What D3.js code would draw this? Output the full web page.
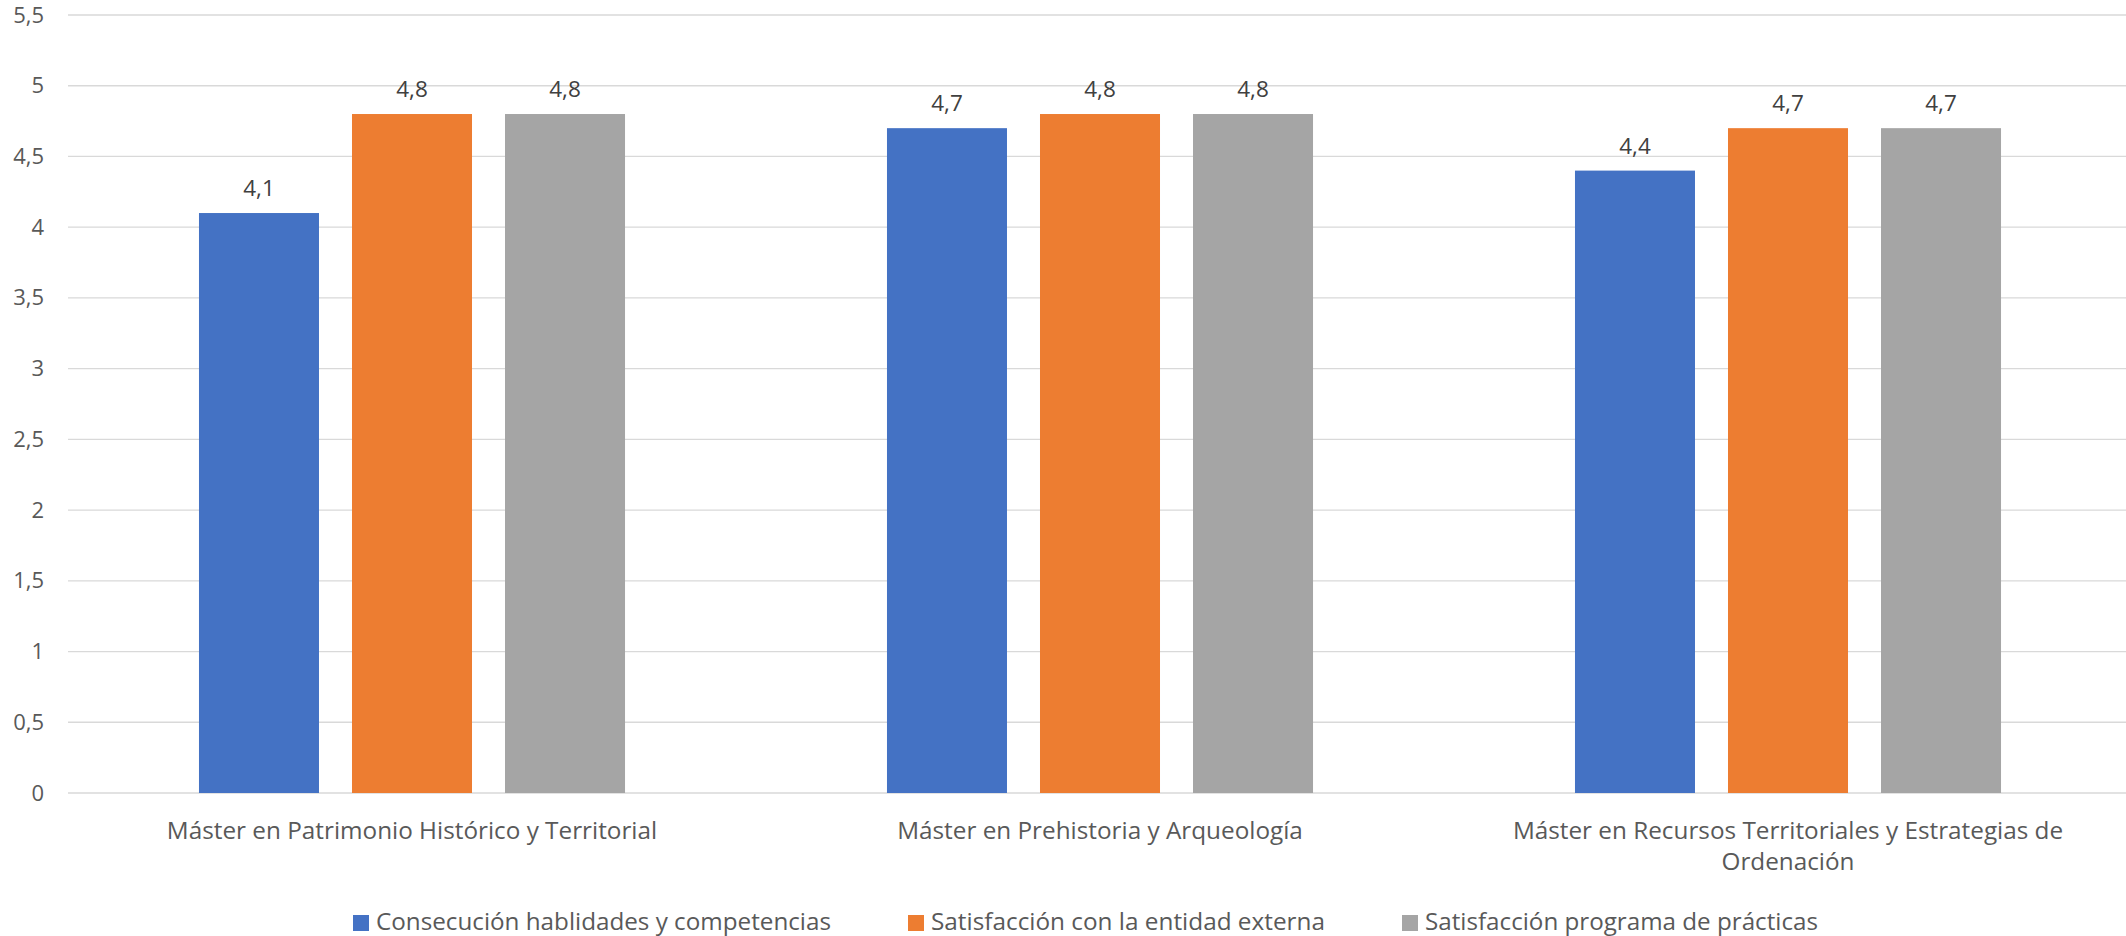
<!DOCTYPE html>
<html>
<head>
<meta charset="utf-8">
<script src="https://cdn.jsdelivr.net/npm/d3@7"></script>
<style>
  html, body { margin: 0; padding: 0; background: #fff; }
  svg { display: block; }
  text { font-family: "Open Sans", "Noto Sans", sans-serif; }
</style>
</head>
<body>
<svg id="chart" width="2126" height="936"></svg>
<script>
const categories = [
  ["Máster en Patrimonio Histórico y Territorial"],
  ["Máster en Prehistoria y Arqueología"],
  ["Máster en Recursos Territoriales y Estrategias de", "Ordenación"]
];
const seriesNames = [
  "Consecución hablidades y competencias",
  "Satisfacción con la entidad externa",
  "Satisfacción programa de prácticas"
];
const consecucion = [4.1, 4.7, 4.4];
const entidadExterna = [4.8, 4.8, 4.7];
const programaPracticas = [4.8, 4.8, 4.7];
const yTicks = [0, 0.5, 1, 1.5, 2, 2.5, 3, 3.5, 4, 4.5, 5, 5.5];
const colors = ["#4472C4", "#ED7D31", "#A5A5A5"];

const seriesValues = [consecucion, entidadExterna, programaPracticas];
const fmt = v => String(v).replace(".", ",");

const svg = d3.select("#chart");
const mLeft = 68, mRight = 2132, mTop = 15, mBottom = 793;

const x0 = d3.scaleBand().domain(d3.range(categories.length)).range([mLeft, mRight]).padding(0);
const x1 = d3.scaleBand().domain(d3.range(seriesNames.length))
  .range([0, x0.bandwidth()]).paddingInner(0.2157).paddingOuter(0.856);
const y = d3.scaleLinear().domain([0, 5.5]).range([mBottom, mTop]);

// gridlines
const grid = svg.append("g");
grid.selectAll("line").data(yTicks).join("line")
  .attr("x1", mLeft).attr("x2", 2126)
  .attr("y1", d => y(d)).attr("y2", d => y(d))
  .attr("stroke", "#d9d9d9").attr("stroke-width", 1.3);

// y axis labels
const yAxis = d3.axisLeft(y).tickValues(yTicks).tickFormat(fmt).tickSize(0).tickPadding(24);
const ya = svg.append("g").attr("transform", `translate(${mLeft},0)`).call(yAxis);
ya.select(".domain").remove();
ya.selectAll("text").attr("font-size", 22).attr("fill", "#595959")
  .style("font-family", '"Open Sans", sans-serif');

// bars
const groups = svg.append("g").selectAll("g").data(categories.map((c, i) => i)).join("g")
  .attr("transform", i => `translate(${x0(i)},0)`);
groups.selectAll("rect")
  .data(i => seriesValues.map((s, k) => ({k, v: s[i]})))
  .join("rect")
  .attr("x", d => x1(d.k)).attr("width", x1.bandwidth())
  .attr("y", d => y(d.v)).attr("height", d => y(0) - y(d.v))
  .attr("fill", d => colors[d.k]);
groups.selectAll("text.lbl")
  .data(i => seriesValues.map((s, k) => ({k, v: s[i]})))
  .join("text").attr("class", "lbl")
  .attr("x", d => x1(d.k) + x1.bandwidth() / 2)
  .attr("y", d => y(d.v) - 17)
  .attr("text-anchor", "middle").attr("font-size", 22.5).attr("fill", "#404040")
  .text(d => fmt(d.v));

// category labels
const cat = svg.append("g").selectAll("text").data(categories.map((c, i) => ({c, i}))).join("text")
  .attr("x", d => x0(d.i) + x0.bandwidth() / 2)
  .attr("y", 839)
  .attr("text-anchor", "middle").attr("font-size", 24.3).attr("fill", "#595959");
cat.selectAll("tspan").data(d => d.c.map((t, j) => ({t, j, x: x0(d.i) + x0.bandwidth() / 2})))
  .join("tspan").attr("x", d => d.x).attr("dy", d => d.j === 0 ? 0 : 31).text(d => d.t);

// legend
const legendWidths = [455, 394, 393];
const legendGap = 77;
let lx = 353;
const legend = svg.append("g");
seriesNames.forEach((name, k) => {
  legend.append("rect").attr("x", lx).attr("y", 915).attr("width", 16).attr("height", 16)
    .attr("fill", colors[k]);
  legend.append("text").attr("x", lx + 23).attr("y", 930)
    .attr("font-size", 23).attr("fill", "#595959")
    .attr("textLength", legendWidths[k]).attr("lengthAdjust", "spacingAndGlyphs")
    .text(name);
  lx += 23 + legendWidths[k] + legendGap;
});
</script>
</body>
</html>
